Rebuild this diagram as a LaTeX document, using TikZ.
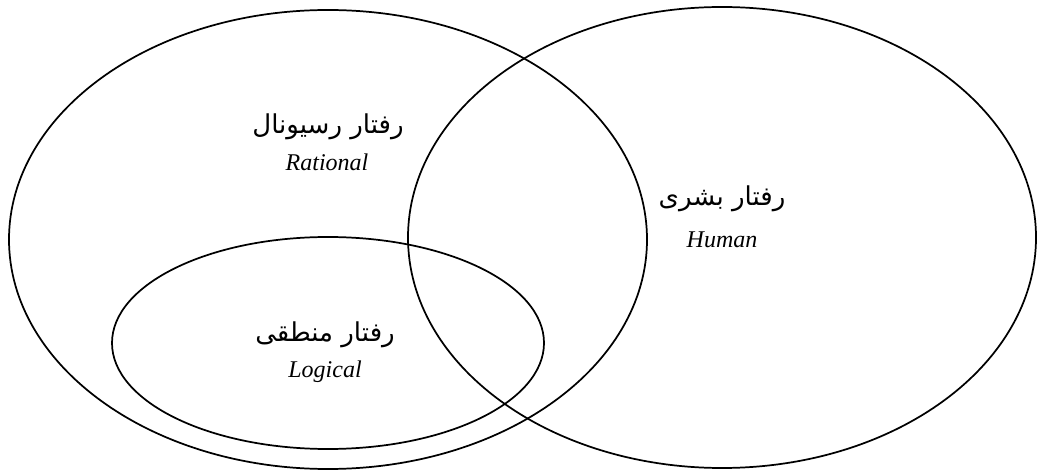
\documentclass[tikz,border=0pt]{standalone}
\usepackage{fontspec}
\setmainfont{Liberation Serif}
\newfontfamily\arabicfont[Script=Arabic]{DejaVu Sans}
\TeXXeTstate=1
\tikzset{
  setline/.style={draw=black, line width=1.3pt},
  fa/.style={font=\arabicfont\fontsize{19.5}{22}\selectfont, inner sep=0pt},
  en/.style={font=\itshape\fontsize{18}{21}\selectfont, inner sep=0pt}
}
\begin{document}
\begin{tikzpicture}[x=0.75pt,y=-0.75pt]
\useasboundingbox (0,0) rectangle (1037,473);
\begin{scope}
\clip (0,0) rectangle (1037,473);
\draw[setline] (328,239.5) ellipse [x radius=319, y radius=229.5];
\draw[setline] (722,237.5) ellipse [x radius=314, y radius=230.5];
\draw[setline] (328,343) ellipse [x radius=216, y radius=106];
\end{scope}
\node[fa] (ratfa) at (328,127) {\beginR رفتار رسیونال\endR};
\node[en] (raten) at (327,162) {Rational};
\node[fa] (humfa) at (722,199) {\beginR رفتار بشری\endR};
\node[en] (humen) at (722,240) {Human};
\node[fa] (logfa) at (325,335) {\beginR رفتار منطقی\endR};
\node[en] (logen) at (325,372) {Logical};
\end{tikzpicture}
\end{document}
